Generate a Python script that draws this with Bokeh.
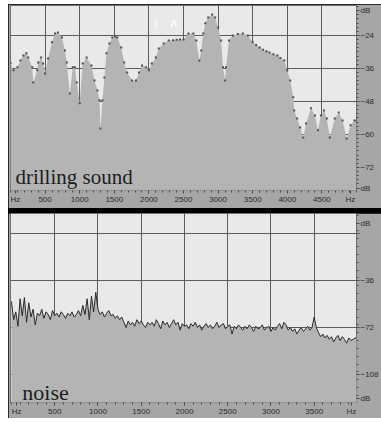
from bokeh.plotting import figure
from bokeh.layouts import column
from bokeh.models import FixedTicker, Label, Range1d
from bokeh.embed import file_html
from bokeh.resources import INLINE

# ---------------- data ----------------
drill_hz = [0, 43, 100, 143, 186, 229, 257, 314, 329, 386, 400, 443, 471, 500, 543, 600, 643, 686, 743, 786,
            814, 857, 900, 929, 957, 1000, 1043, 1100, 1171, 1214, 1257, 1286, 1300, 1329, 1357, 1386, 1429,
            1471, 1514, 1543, 1600, 1643, 1686, 1757, 1814, 1857, 1900, 1957, 2000, 2043, 2100, 2143, 2214,
            2286, 2350, 2400, 2450, 2500, 2571, 2643, 2686, 2729, 2757, 2786, 2814, 2857, 2914, 2957, 3000,
            3043, 3071, 3100, 3114, 3157, 3214, 3286, 3357, 3429, 3500, 3550, 3600, 3650, 3700, 3743, 3800,
            3857, 3900, 3957, 4000, 4043, 4086, 4100, 4143, 4186, 4229, 4271, 4343, 4400, 4443, 4486, 4529,
            4571, 4614, 4686, 4743, 4800, 4857, 4914, 4971, 5000]
drill_db = [-34, -36.7, -35.6, -33.1, -31.3, -30.5, -32, -35.6, -41.1, -36.7, -33.8, -32, -34.2, -37.8, -32.4,
            -26.5, -23.3, -22.9, -24.7, -29.5, -33.8, -45.1, -35.6, -35.6, -41.1, -48.7, -34.2, -32, -34.9,
            -40.4, -44, -47.6, -57.8, -47.6, -39.3, -30.5, -26.9, -24.7, -24.4, -24.7, -28.4, -33.8, -37.5,
            -40.4, -40.4, -37.5, -34.9, -35.6, -36.7, -34.2, -32, -28.7, -26.9, -25.8, -25.7, -25.6, -25.5,
            -25.5, -23.3, -23.3, -25.8, -33.1, -29.5, -23.3, -19.6, -17.5, -16.4, -17.5, -21.1, -25.8, -35.6,
            -40.4, -35.6, -25.8, -24, -23.5, -23.3, -24, -26.5, -27.5, -28.4, -29.2, -29.7, -30.2, -30.8,
            -31.3, -32.2, -33.1, -36.7, -40.4, -46.5, -51.3, -54.2, -57.5, -61.1, -56, -50.5, -53.1, -58.5,
            -53.1, -51.3, -54.2, -61.1, -54.2, -52, -54.9, -61.5, -56.7, -54.9, -54.9]

noise_hz = list(range(0, 4001, 25))
noise_db = [-52, -66, -60, -71, -50, -63, -49, -68, -53, -64, -58,
            -70, -61, -63, -58, -65, -60, -62, -66, -59, -63,
            -61, -64, -60, -62, -65, -61, -63, -60, -64, -62, -59, -63,
            -55, -62, -50, -66, -48, -60, -45, -58,
            -62, -60, -64, -61, -59, -63, -62, -65, -63, -66, -64, -68,
            -72, -67, -70, -68, -71, -66, -69, -67, -70, -72, -68, -70,
            -68, -71, -66, -69, -73, -67, -70, -68, -72, -69, -66, -70, -68, -74, -69, -71,
            -70, -73, -69, -71, -68, -72, -70, -74, -71, -69, -72, -70, -73, -71, -68, -72, -70, -69, -73, -71,
            -70, -77, -71, -73, -70, -72, -74, -71, -73, -70, -72, -75, -71, -73, -72, -70, -74, -72, -71, -75,
            -72, -74, -71, -69, -73, -68, -70, -74, -72, -75, -73, -77, -74, -72, -75, -73, -71, -74, -72, -64,
            -72, -76, -79, -77, -80, -78, -81, -79, -83, -80, -78, -82, -79, -81, -84, -80, -82, -81,
            -80, -80]

top_x_ticks = [70, 500, 1000, 1500, 2000, 2500, 3000, 3500, 4000, 4500, 4910]
top_x_labels = {70: "Hz", 4910: "Hz"}
top_x_grid = [500, 1000, 1500, 2000, 2500, 3000, 3500, 4000, 4500]
top_y_ticks = [-15, -24, -36, -48, -60, -72, -79.5]
top_y_labels = {-15: "dB", -79.5: "dB"}
top_y_grid = [-24, -36, -48, -60, -72]

bot_x_ticks = [60, 500, 1000, 1500, 2000, 2500, 3000, 3500, 3930]
bot_x_labels = {60: "Hz", 3930: "Hz"}
bot_x_grid = [500, 1000, 1500, 2000, 2500, 3000, 3500]
bot_y_ticks = [8, 0, -36, -72, -108, -126]
bot_y_labels = {8: "dB", 0: "", -126: "dB"}
bot_y_grid = [0, -36, -72, -108]

BG = "#e9e9e9"
FILL = "#b4b4b4"
STRIP = "#a6a6a6"
GRID = "#5c5c5c"
TXT = "#2c2c2c"


def style(p, xt, xl, xminor, yt, yl, yminor, xg, yg):
    p.background_fill_color = BG
    p.border_fill_color = STRIP
    p.outline_line_color = "#707070"
    p.xgrid.ticker = FixedTicker(ticks=xg)
    p.ygrid.ticker = FixedTicker(ticks=yg)
    for g in (p.xgrid, p.ygrid):
        g.grid_line_color = GRID
        g.grid_line_width = 1
    p.xaxis.ticker = FixedTicker(ticks=xt, minor_ticks=xminor)
    p.xaxis.major_label_overrides = xl
    p.yaxis.ticker = FixedTicker(ticks=yt, minor_ticks=yminor)
    p.yaxis.major_label_overrides = yl
    for ax in (p.xaxis, p.yaxis):
        ax.axis_line_color = None
        ax.major_tick_in = 0
        ax.major_tick_out = 3
        ax.minor_tick_in = 0
        ax.minor_tick_out = 2
        ax.major_tick_line_color = "#4a4a4a"
        ax.minor_tick_line_color = "#4a4a4a"
        ax.major_label_text_font = "Liberation Sans"
        ax.major_label_text_font_size = "8px"
        ax.major_label_text_color = TXT
        ax.major_label_standoff = 1


# ---------------- top panel ----------------
p1 = figure(width=373, height=204, x_range=Range1d(0, 5000), y_range=Range1d(-80.4, -13.1),
            output_backend="svg", toolbar_location=None, x_axis_location="below",
            y_axis_location="right", min_border_left=2, min_border_right=21,
            min_border_top=1, min_border_bottom=18)
style(p1, top_x_ticks, top_x_labels, list(range(0, 5001, 100)),
      top_y_ticks, top_y_labels, [v * 1.5 - 81 for v in range(0, 46)], top_x_grid, top_y_grid)
p1.varea(x=drill_hz, y1=-100, y2=drill_db, fill_color=FILL)
p1.scatter(x=drill_hz, y=drill_db, marker="square", size=2, fill_color="#505050",
           line_color=None)
p1.add_layout(Label(x=71, y=-75.6, text="drilling sound", text_font="Liberation Serif",
                    text_font_size="21px", text_color="#1c1c1c", text_baseline="alphabetic"))
p1.add_layout(Label(x=2110, y=-19.5, text="(", text_font="DejaVu Sans", text_font_size="11px",
                    text_color="#ffffff", text_baseline="middle", text_align="center"))
p1.add_layout(Label(x=2360, y=-19.5, text="\u028c", text_font="DejaVu Sans", text_font_size="12px",
                    text_color="#ffffff", text_baseline="middle", text_align="center"))

# ---------------- bottom panel ----------------
p2 = figure(width=373, height=205, x_range=Range1d(-11, 3989), y_range=Range1d(-129.4, 15.3),
            output_backend="svg", toolbar_location=None, x_axis_location="below",
            y_axis_location="right", min_border_left=2, min_border_right=21,
            min_border_top=0, min_border_bottom=16)
style(p2, bot_x_ticks, bot_x_labels, list(range(0, 4001, 100)),
      bot_y_ticks, bot_y_labels, [v * 6 - 130 for v in range(0, 25)], bot_x_grid, bot_y_grid)
p2.varea(x=noise_hz, y1=-200, y2=noise_db, fill_color=FILL)
p2.line(x=noise_hz, y=noise_db, line_color="#2a2a2a", line_width=1)
p2.add_layout(Label(x=125, y=-121.8, text="noise", text_font="Liberation Serif",
                    text_font_size="22px", text_color="#1c1c1c", text_baseline="alphabetic"))

layout = column(p1, p2, spacing=5,
                styles={"margin-top": "4px", "margin-left": "8px", "background-color": "#000000"})

open("out.html", "w").write(file_html(layout, INLINE))
